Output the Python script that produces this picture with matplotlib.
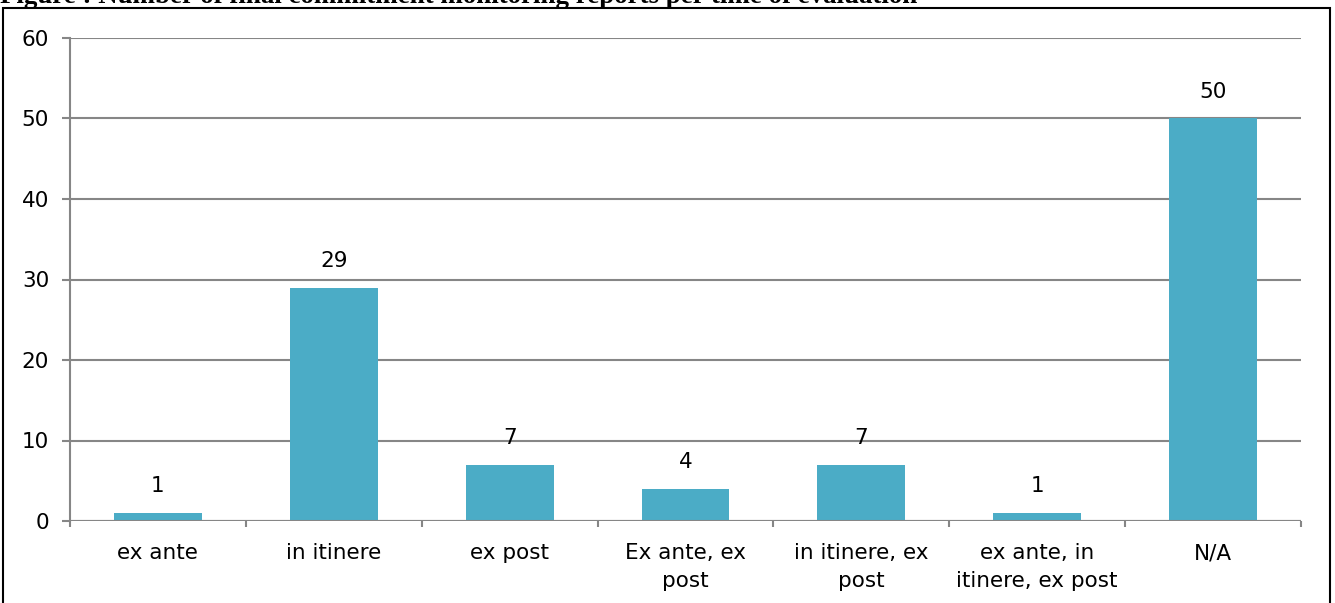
import matplotlib.pyplot as plt
from matplotlib.patches import Rectangle

categories = ["ex ante", "in itinere", "ex post", "Ex ante, ex\npost",
              "in itinere, ex\npost", "ex ante, in\nitinere, ex post", "N/A"]
counts = [1, 29, 7, 4, 7, 1, 50]

BAR_COLOR = "#4BACC6"
GRID_COLOR = "#868686"
FONT = ["DejaVu Sans"]

W, H = 1335, 603
fig = plt.figure(figsize=(W / 100, H / 100), dpi=100)
ax = fig.add_axes([70 / W, 1 - 521 / H, (1301 - 70) / W, (521 - 38) / H])

x = range(len(categories))
ax.bar(x, counts, width=0.5, color=BAR_COLOR, zorder=3)
for xi, v in zip(x, counts):
    ax.text(xi, v + 2.1, str(v), ha="center", va="bottom", fontsize=15.5,
            family=FONT, color="black")

ax.set_xlim(-0.5, len(categories) - 0.5)
ax.set_ylim(0, 60)
ax.set_yticks(range(0, 61, 10))
ax.yaxis.grid(True, color=GRID_COLOR, linewidth=1.5, zorder=0)
for s in ["top", "right", "bottom"]:
    ax.spines[s].set_visible(False)
ax.spines["left"].set_color(GRID_COLOR)
ax.spines["left"].set_linewidth(1.5)
ax.axhline(0, color=GRID_COLOR, linewidth=1.5, zorder=4)

# category labels between boundary ticks
ax.set_xticks([i - 0.5 for i in range(len(categories) + 1)])
ax.set_xticklabels([])
ax.set_xticks(list(x), minor=True)
ax.set_xticklabels(categories, minor=True, fontsize=15.5, family=FONT,
                   linespacing=1.5)
ax.tick_params(axis="x", which="major", length=4, width=1.5, color=GRID_COLOR)
ax.tick_params(axis="x", which="minor", length=0, pad=16)
ax.tick_params(axis="y", length=6, width=1.5, color=GRID_COLOR, labelsize=15.5, pad=9)
for lab in ax.get_yticklabels():
    lab.set_family(FONT)

# outer frame of the figure box
fig.patches.append(Rectangle((2.5 / W, -0.01), (1330 - 2.5) / W, 1 - 8 / H + 0.01,
                             transform=fig.transFigure, fill=False,
                             edgecolor="black", linewidth=1.5))
fig.text(0, 1 - 3 / H, "Figure : Number of final commitment monitoring reports per time of evaluation",
         ha="left", va="baseline", fontsize=19.4, fontweight="bold",
         family="Liberation Serif")

fig.savefig("out.png", dpi=100)
